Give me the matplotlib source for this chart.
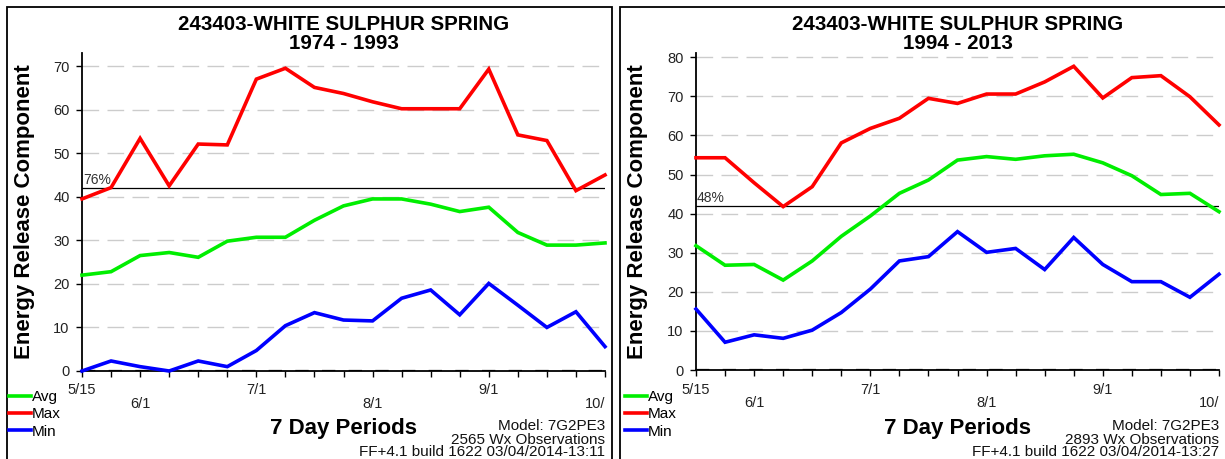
import matplotlib
matplotlib.use("Agg")
import matplotlib.pyplot as plt
from matplotlib.lines import Line2D
from matplotlib.patches import Rectangle

plt.rcParams['font.family'] = ['Liberation Sans', 'DejaVu Sans']

# ---------------- data ----------------
periods = list(range(19))
tick_labels = ["5/15", "", "\n6/1", "", "", "", "7/1", "", "", "", "\n8/1",
               "", "", "", "9/1", "", "", "", "\n10/"]

title_1 = ["243403-WHITE SULPHUR SPRING", "1974 - 1993"]
avg_1 = [22.0, 22.8, 26.5, 27.2, 26.1, 29.8, 30.7, 30.7, 34.6, 37.9, 39.5,
         39.5, 38.3, 36.6, 37.6, 31.8, 28.9, 28.9, 29.4]
max_1 = [39.5, 42.1, 53.4, 42.5, 52.1, 51.9, 67.0, 69.5, 65.1, 63.7, 61.8,
         60.2, 60.2, 60.2, 69.3, 54.2, 52.9, 41.4, 45.0]
min_1 = [0.0, 2.3, 1.0, 0.0, 2.3, 1.0, 4.7, 10.4, 13.4, 11.7, 11.5,
         16.7, 18.6, 12.9, 20.1, 15.1, 10.0, 13.6, 5.6]
ref_1 = 42
ref_label_1 = "76%"
info_1 = ["Model: 7G2PE3", "2565 Wx Observations", "FF+4.1 build 1622 03/04/2014-13:11"]
yticks_1 = [0, 10, 20, 30, 40, 50, 60, 70]

title_2 = ["243403-WHITE SULPHUR SPRING", "1994 - 2013"]
avg_2 = [31.8, 26.8, 27.0, 23.0, 27.9, 34.2, 39.4, 45.2, 48.6, 53.7, 54.6,
         53.9, 54.8, 55.2, 53.0, 49.7, 44.9, 45.2, 40.5]
max_2 = [54.3, 54.3, 47.9, 41.8, 46.9, 58.1, 61.8, 64.4, 69.5, 68.2, 70.6,
         70.6, 73.7, 77.7, 69.6, 74.8, 75.3, 69.9, 62.7]
min_2 = [15.6, 7.1, 9.0, 8.1, 10.2, 14.7, 20.7, 27.9, 29.0, 35.4, 30.1,
         31.1, 25.7, 33.9, 27.0, 22.6, 22.6, 18.6, 24.5]
ref_2 = 42
ref_label_2 = "48%"
info_2 = ["Model: 7G2PE3", "2893 Wx Observations", "FF+4.1 build 1622 03/04/2014-13:27"]
yticks_2 = [0, 10, 20, 30, 40, 50, 60, 70, 80]

series_names = ["Avg", "Max", "Min"]
series_colors = ["#00ee00", "#ff0000", "#0000ff"]

# ---------------- layout ----------------
W, H = 1225, 459
fig = plt.figure(figsize=(W / 100, H / 100), dpi=100)
fig.patch.set_facecolor("white")


def fx(x):
    return x / W


def fy(y):
    return 1 - y / H


panels = [
    dict(frame=(7, 7, 612), ax=(82, 605, 53, 371), ylim=(0, 73), yticks=yticks_1,
         title=title_1, avg=avg_1, mx=max_1, mn=min_1, ref=ref_1, ref_label=ref_label_1,
         info=info_1, ylabel_x=25, legend_x=9),
    dict(frame=(620, 7, 1240), ax=(696, 1219, 53, 370), ylim=(0, 81.1), yticks=yticks_2,
         title=title_2, avg=avg_2, mx=max_2, mn=min_2, ref=ref_2, ref_label=ref_label_2,
         info=info_2, ylabel_x=638, legend_x=625),
]

for p in panels:
    fl, ft, fr = p["frame"]
    fig.patches.append(Rectangle((fx(fl), fy(H + 20)), fx(fr - fl), (H + 20 - ft) / H,
                                 transform=fig.transFigure, fill=False,
                                 edgecolor="black", linewidth=1.3))
    l, r, t, b = p["ax"]
    ax = fig.add_axes([fx(l), fy(b), fx(r - l), (b - t) / H])
    ax.set_xlim(0, 18)
    ax.set_ylim(*p["ylim"])
    ax.patch.set_alpha(0)
    for s in ["top", "right"]:
        ax.spines[s].set_visible(False)
    ax.spines["left"].set_linewidth(1.3)
    ax.spines["bottom"].set_linewidth(1.3)

    for v in p["yticks"][1:]:
        ax.axhline(v, color="#cccccc", linewidth=1.0, linestyle=(0, (12, 6)), zorder=1)
    ax.axhline(0, color="black", linewidth=1.6, linestyle=(0, (6, 6)), zorder=1)

    ax.set_yticks(p["yticks"])
    ax.set_yticklabels([str(v) for v in p["yticks"]])
    ax.set_xticks(periods)
    ax.set_xticklabels(tick_labels)
    ax.tick_params(axis="both", direction="out", length=4, width=1.0,
                   colors="black", labelcolor="#222222", labelsize=10.5)
    ax.tick_params(axis="x", pad=5)
    ax.tick_params(axis="y", pad=5)
    xls = ax.get_xticklabels()
    for lab in xls:
        lab.set_linespacing(0.95)
    xls[-1].set_horizontalalignment("right")
    xls[-1].set_x(18.15)

    ax.axhline(p["ref"], color="black", linewidth=0.9, zorder=2)
    ax.text(0.03, p["ref"] + 0.3, p["ref_label"], fontsize=10, color="#333333",
            ha="left", va="bottom")

    for vals, c in zip([p["avg"], p["mx"], p["mn"]], series_colors):
        ax.plot(periods, vals, color=c, linewidth=2.6, solid_joinstyle="miter",
                zorder=3, clip_on=False)

    cx = (l + r) / 2
    fig.text(fx(cx), fy(30.5), p["title"][0], ha="center", va="baseline",
             fontsize=14.8, fontweight="bold")
    fig.text(fx(cx), fy(49), p["title"][1], ha="center", va="baseline",
             fontsize=14.8, fontweight="bold")
    fig.text(fx(p["ylabel_x"]), fy((t + b) / 2), "Energy Release Component",
             rotation=90, ha="center", va="center", fontsize=16, fontweight="bold")
    fig.text(fx(cx), fy(434), "7 Day Periods", ha="center", va="baseline",
             fontsize=16, fontweight="bold")
    for txt, yc in zip(p["info"], [426, 440, 452]):
        fig.text(fx(r), fy(yc), txt, ha="right", va="center", fontsize=11,
                 color="#111111")

    handles = [Line2D([0], [0], color=c, linewidth=2.6) for c in series_colors]
    leg = fig.legend(handles, series_names, loc="upper left",
                     bbox_to_anchor=(fx(p["legend_x"]), fy(390)),
                     frameon=False, fontsize=11, handlelength=1.45,
                     handletextpad=0.05, labelspacing=0.22, borderaxespad=0,
                     borderpad=0)

fig.savefig("out.png", dpi=100)
